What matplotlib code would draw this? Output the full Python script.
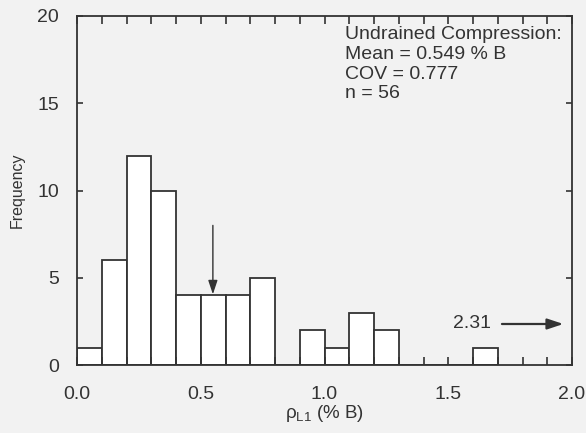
import matplotlib
matplotlib.use("Agg")
import matplotlib.pyplot as plt
import numpy as np

# histogram of rho_L1 (% B), bin width 0.1, left bin edges
bin_left = [0.0, 0.1, 0.2, 0.3, 0.4, 0.5, 0.6, 0.7, 0.8,
            0.9, 1.0, 1.1, 1.2, 1.3, 1.4, 1.5, 1.6]
counts = [1, 6, 12, 10, 4, 4, 4, 5, 0, 2, 1, 3, 2, 0, 0, 0, 1]
bin_width = 0.1
mean_val = 0.549
outlier_val = 2.31
stats_lines = ["Undrained Compression:", "Mean = 0.549 % B", "COV = 0.777", "n = 56"]

plt.rcParams.update({'font.size': 14, 'font.family': 'Liberation Sans',
                     'mathtext.fontset': 'custom',
                     'mathtext.rm': 'Liberation Sans',
                     'mathtext.it': 'Liberation Sans:italic'})
ink = '#333333'
bg = '#f2f2f2'

fig = plt.figure(figsize=(5.86, 4.33), dpi=100, facecolor=bg)
ax = fig.add_axes([77 / 586, 68 / 433, 495 / 586, 349 / 433])
ax.set_facecolor(bg)

ax.bar(np.array(bin_left) + bin_width / 2, counts, width=bin_width,
       color='white', edgecolor=ink, linewidth=1.3)

ax.set_xlim(0, 2.0)
ax.set_ylim(0, 20)
ax.set_xticks(np.arange(0, 2.01, 0.5))
ax.set_xticks(np.arange(0, 2.01, 0.1), minor=True)
ax.set_xticklabels([f"{v:.1f}" for v in np.arange(0, 2.01, 0.5)])
ax.set_yticks(np.arange(0, 21, 5))
ax.tick_params(axis='x', which='both', direction='in', top=True, length=6,
               width=1.2, color=ink, pad=15, labelcolor=ink)
ax.tick_params(axis='y', which='both', direction='in', right=True, length=4,
               width=1.2, color=ink, pad=13, labelcolor=ink)
for s in ax.spines.values():
    s.set_color(ink)
    s.set_linewidth(1.3)

ax.set_ylabel("Frequency", color=ink, fontsize=11.5, labelpad=9)
ax.set_xlabel(r"ρ$_{\mathrm{L1}}$ (% B)", color=ink, fontsize=13.5, labelpad=0)

# mean marker
ax.annotate("", xy=(mean_val, 4.05), xytext=(mean_val, 8.0),
            arrowprops=dict(arrowstyle='-|>,head_length=0.6,head_width=0.2',
                            color=ink, lw=1.0, mutation_scale=14,
                            shrinkA=0, shrinkB=0))
# outlier beyond axis
ax.annotate("", xy=(1.965, 2.35), xytext=(1.717, 2.35),
            arrowprops=dict(arrowstyle='-|>,head_length=0.6,head_width=0.2',
                            color=ink, lw=1.6, mutation_scale=16,
                            shrinkA=0, shrinkB=0))
ax.text(1.673, 2.35, f"{outlier_val:.2f}", ha='right', va='center', color=ink)

ax.text(1.083, 19.4, "\n".join(stats_lines), ha='left', va='top',
        color=ink, linespacing=1.2)

fig.savefig('out.png', dpi=100, facecolor=bg)
